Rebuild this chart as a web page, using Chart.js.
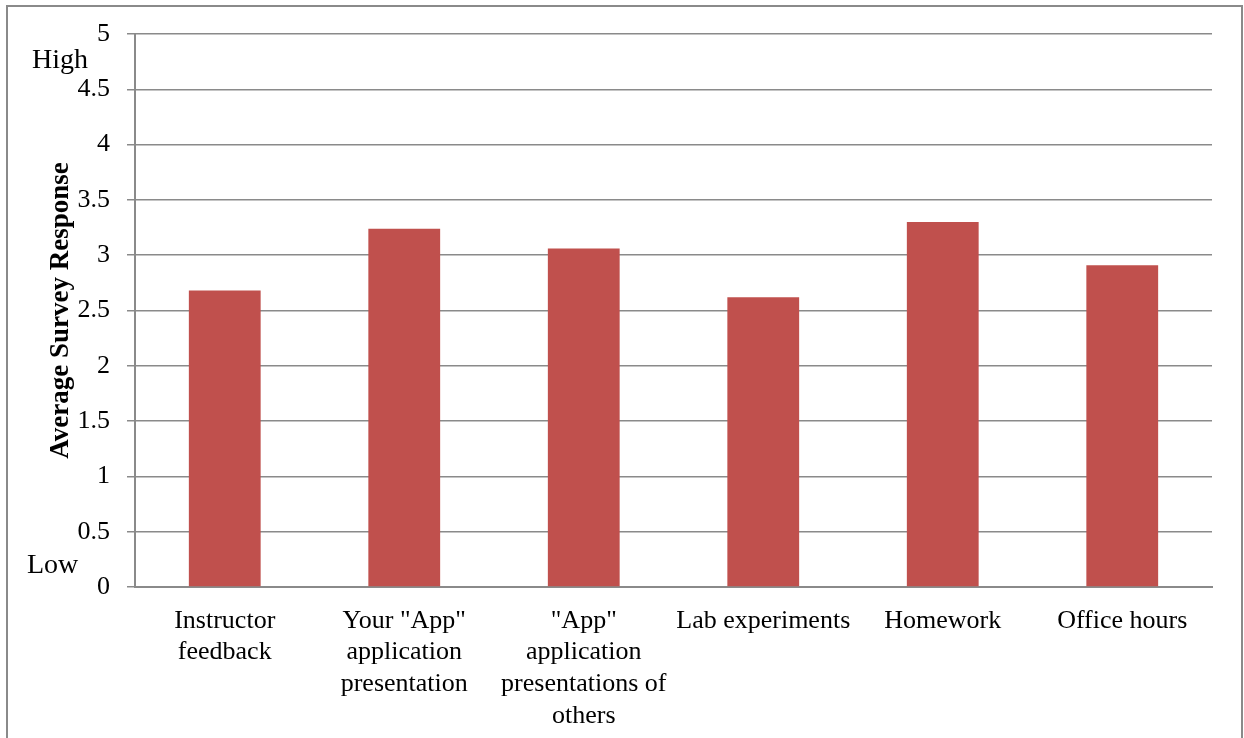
<!DOCTYPE html>
<html>
<head>
<meta charset="utf-8">
<script src="https://cdn.jsdelivr.net/npm/chart.js@4.4.0/dist/chart.umd.min.js"></script>
<style>
    html, body { margin: 0; padding: 0; background: #fff; overflow: hidden; }
    #frame {
        position: absolute; left: 6px; top: 5px; width: 1233px; height: 800px;
        border: 2px solid #8a8a8a;
    }
    #wrap { position: absolute; left: 0; top: 0; width: 1244px; height: 738px; }
</style>
</head>
<body>
<div id="frame"></div>
<div id="wrap"><canvas id="surveyChart"></canvas></div>
<script>
// Chart data
const categories = [
    ['Instructor', 'feedback'],
    ['Your "App"', 'application', 'presentation'],
    ['"App"', 'application', 'presentations of', 'others'],
    ['Lab experiments'],
    ['Homework'],
    ['Office hours']
];
const responses = [2.68, 3.24, 3.06, 2.62, 3.30, 2.91];
const yTicks = [0, 0.5, 1, 1.5, 2, 2.5, 3, 3.5, 4, 4.5, 5];
const sideLabels = ['High', 'Low'];
const sideLabelValues = [4.69, 0.13];

const gridColor = '#8a8a8a';
const font = { family: '"Liberation Serif", "Times New Roman", serif', size: 26, lineHeight: 1.22 };

// Draws the "High" / "Low" notes beside the y axis
const sideLabelPlugin = {
    id: 'sideLabels',
    afterDraw(chart) {
        const ctx = chart.ctx;
        const y = chart.scales.y;
        const xs = [32, 27];
        ctx.save();
        ctx.font = '28px "Liberation Serif", "Times New Roman", serif';
        ctx.fillStyle = '#000';
        ctx.textAlign = 'left';
        ctx.textBaseline = 'alphabetic';
        sideLabels.forEach((txt, i) => {
            ctx.fillText(txt, xs[i], y.getPixelForValue(sideLabelValues[i]));
        });
        ctx.restore();
    }
};

const ctx = document.getElementById('surveyChart').getContext('2d');
const surveyChart = new Chart(ctx, {
    type: 'bar',
    data: {
        labels: categories,
        datasets: [{
            data: responses,
            backgroundColor: '#C0504D',
            borderWidth: 0,
            categoryPercentage: 1,
            barPercentage: 0.4
        }]
    },
    options: {
        responsive: true,
        maintainAspectRatio: false,
        animation: false,
        layout: { padding: { left: 45, right: 32, top: 34, bottom: 0 } },
        plugins: {
            legend: { display: false },
            tooltip: { enabled: false }
        },
        scales: {
            x: {
                afterFit(scale) { scale.height = 151; },
                grid: { display: false },
                border: { display: true, color: gridColor, width: 2 },
                ticks: { color: '#000', font: font, padding: 10, maxRotation: 0, autoSkip: false }
            },
            y: {
                min: 0,
                max: 5,
                afterFit(scale) { scale.width = 90; },
                afterBuildTicks(scale) { scale.ticks = yTicks.map(v => ({ value: v })); },
                grid: { color: gridColor, lineWidth: 1.5, tickLength: 8, drawTicks: true },
                border: { display: true, color: gridColor, width: 2 },
                ticks: {
                    color: '#000', font: font, padding: 17,
                    callback: (v) => String(v)
                },
                title: {
                    display: true,
                    text: 'Average Survey Response',
                    color: '#000',
                    font: { family: font.family, size: 27, weight: 'bold', lineHeight: 1.2 },
                    padding: 0
                }
            }
        }
    },
    plugins: [sideLabelPlugin]
});
</script>
</body>
</html>
